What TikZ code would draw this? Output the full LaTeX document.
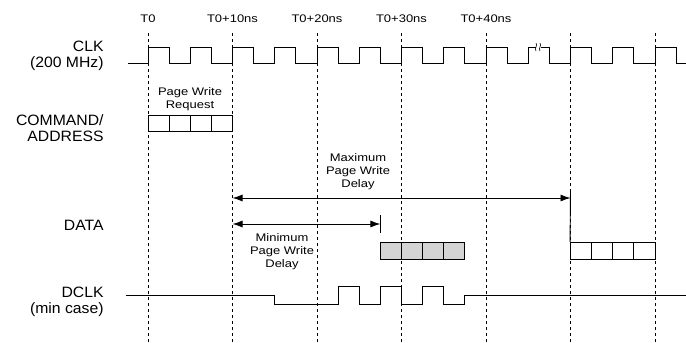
\documentclass[tikz,border=0pt]{standalone}
\usepackage{fontspec}
\setmainfont{Liberation Sans}
\newfontfamily\siglabelfont[FakeStretch=1.05]{Liberation Sans}
\newfontfamily\notefont[FakeStretch=1.18]{Liberation Sans}
\usetikzlibrary{arrows.meta}
\definecolor{cellgray}{HTML}{D4D4D4}

\begin{document}
\begin{tikzpicture}[x=1pt,y=-1pt,line width=0.9pt,
  siglabel/.style={align=right,anchor=east,inner sep=0pt,
    font=\siglabelfont\fontsize{15}{16}\selectfont},
  note/.style={align=center,inner sep=0pt,
    font=\notefont\fontsize{11}{13}\selectfont},
  guide/.style={line width=0.8pt,dash pattern=on 3pt off 3pt},
  delay/.style={{Latex[length=10pt,width=7pt]}-{Latex[length=10pt,width=7pt]}},
  cell/.style={draw,minimum width=21.125pt,minimum height=17pt,inner sep=0pt}]
  \useasboundingbox (0,0) rectangle (686,343);

  % time grid
  \foreach \i/\t in {0/T0,1/T0+10ns,2/T0+20ns,3/T0+30ns,4/T0+40ns} {
    \node[note] (time\i) at (148+84.5*\i,19) {\t};
  }
  \foreach \i in {0,...,6} {
    \draw[guide] (148+84.5*\i,33) -- (148+84.5*\i,342);
  }

  % signal names
  \node[siglabel] (clkname) at (104,55.5) {CLK\\(200 MHz)};
  \node[siglabel] (cmdname) at (104,128) {COMMAND/\\ADDRESS};
  \node[siglabel] (dataname) at (104,225) {DATA};
  \node[siglabel] (dclkname) at (104,301.5) {DCLK\\(min case)};

  % CLK
  \draw (128,63) -- (148,63)
    \foreach \k in {1,...,12} { -- ++(0,-16) -- ++(21.125,0) -- ++(0,16) -- ++(21.125,0) }
    -- ++(0,-16) -- ++(21.125,0) -- ++(0,16) -- (686,63);
  \fill[white] (535.5,44) rectangle (540.5,50);
  \draw[line width=0.6pt] (536,43) .. controls (538,45.5) and (534,48.5) .. (536,51);
  \draw[line width=0.6pt] (540,43) .. controls (542,45.5) and (538,48.5) .. (540,51);

  % COMMAND/ADDRESS
  \node[note] (request) at (190,99.5) {Page Write\\Request};
  \foreach \i in {0,...,3} {
    \node[cell,minimum height=16pt] (cmd\i) at (158.56+21.125*\i,123) {};
  }

  % DATA
  \foreach \i in {0,...,3} {
    \node[cell,fill=cellgray] (early\i) at (390.96+21.125*\i,251) {};
    \node[cell] (late\i) at (581.06+21.125*\i,251) {};
  }

  % delays
  \node[note] (maxnote) at (358,172) {Maximum\\Page Write\\Delay};
  \coordinate (maxL) at (232.5,198);
  \coordinate (maxR) at (570.5,198);
  \coordinate (maxtop) at (570.5,190);
  \draw[delay] (maxL) -- (maxR);
  \draw (maxtop) -- (late0.north west);

  \node[note] (minnote) at (282,252) {Minimum\\Page Write\\Delay};
  \coordinate (minL) at (232.5,224);
  \coordinate (minR) at (380.4,224);
  \coordinate (mintop) at (380.4,215);
  \coordinate (minbot) at (380.4,233);
  \draw[delay] (minL) -- (minR);
  \draw (mintop) -- (minbot);

  % DCLK
  \draw (126,295) -- (274.75,295) -- (274.75,304) -- (338.1,304)
    \foreach \k in {0,1,2} { -- ++(0,-18) -- ++(21.125,0) -- ++(0,18) -- ++(21.125,0) }
    -- ++(0,-9) -- (686,295);
\end{tikzpicture}
\end{document}
